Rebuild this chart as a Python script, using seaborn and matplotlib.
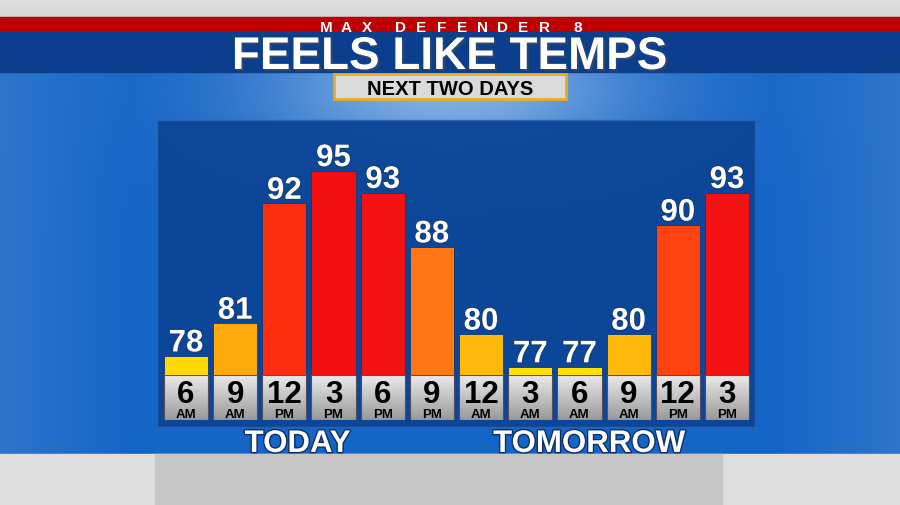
import numpy as np
import pandas as pd
import matplotlib.pyplot as plt
import matplotlib.patheffects as pe
from matplotlib.colors import LinearSegmentedColormap, to_rgb
from matplotlib.patches import Rectangle
import seaborn as sns

# Feels-like temperatures, every 3 hours over the next two days
hours = ["6", "9", "12", "3", "6", "9", "12", "3", "6", "9", "12", "3"]
meridiem = ["AM", "AM", "PM", "PM", "PM", "PM", "AM", "AM", "AM", "AM", "PM", "PM"]
temps = [78, 81, 92, 95, 93, 88, 80, 77, 77, 80, 90, 93]
days = ["TODAY", "TOMORROW"]

title = "FEELS LIKE TEMPS"
brand = "MAX DEFENDER 8"
subtitle = "NEXT TWO DAYS"

W, H = 900, 506
fig = plt.figure(figsize=(W / 100, H / 100), dpi=100)

# ---------- background (pixel coordinates) ----------
bg = fig.add_axes([0, 0, 1, 1])
bg.set_xlim(0, W)
bg.set_ylim(H, 0)
bg.axis("off")

yy, xx = np.mgrid[0:H, 0:W]
base = np.array(to_rgb("#1565c6"))
glow = np.exp(-(((xx - 450) / 190.0) ** 2 + ((yy - 90) / 75.0) ** 2))
edge = np.clip((np.abs(xx - 450) - 320) / 180.0, 0, 1) * 0.18
img = base[None, None, :] * np.ones((H, W, 1))
img = img + (np.array([0.80, 0.88, 0.96]) - img) * (0.6 * glow + edge)[..., None]
bg.imshow(np.clip(img, 0, 1), extent=(0, W, H, 0), aspect="auto", zorder=0)

# top bands
topgrad = np.linspace(0.88, 0.83, 18)[:, None]
bg.imshow(np.dstack([topgrad] * 3), extent=(0, W, 18, 0), aspect="auto", zorder=1)
bg.add_patch(Rectangle((0, 18), W, 15, color="#bd0000", zorder=1))
bg.add_patch(Rectangle((0, 33), W, 40, color="#0b3f8e", zorder=1))
# bottom band
bg.add_patch(Rectangle((0, 455), W, 51, color="#dedede", zorder=1))
bg.add_patch(Rectangle((155, 455), 567, 51, color="#c6c6c6", zorder=1))

# letter-spaced brand line
x = 326.0
for ch in brand:
    if ch == " ":
        x += 13
        continue
    bg.text(x, 31.5, ch, color="white", fontsize=11, fontweight="bold",
            family="Liberation Sans", ha="center", va="baseline", zorder=2)
    x += 20.5

bg.text(450, 70, title, color="white", fontsize=33, fontweight="bold",
        family="Liberation Sans", ha="center", va="baseline", zorder=2,
        path_effects=[pe.withSimplePatchShadow(offset=(1.5, -1.5), alpha=0.5)])

bg.add_patch(Rectangle((334, 75), 232, 25, facecolor="#dadada",
                       edgecolor="#e6ae22", linewidth=2, zorder=2))
bg.text(450, 94.5, subtitle, color="black", fontsize=14.5, fontweight="bold",
        family="Liberation Sans", ha="center", va="baseline", zorder=3)

# chart panel
bg.add_patch(Rectangle((157, 121), 598, 307, facecolor="#0c4596",
                       edgecolor="#2d63ad", linewidth=1, alpha=0.95, zorder=2))

# ---------- bars ----------
baseline = 76.26
px_per_deg = 10.9
ax_left, ax_w = 161.4 / W, 590.2 / W
ax_top_px, ax_bot_px = 121, 376
ax = fig.add_axes([ax_left, 1 - ax_bot_px / H, ax_w, (ax_bot_px - ax_top_px) / H])
ax.patch.set_visible(False)

df = pd.DataFrame({"slot": range(len(temps)), "temp": temps})
cmap = LinearSegmentedColormap.from_list(
    "heat", [(0.0, "#ffdf00"), (1 / 18, "#ffd806"), (4 / 18, "#ffa90c"),
             (11 / 18, "#ff7814"), (13 / 18, "#fd4410"), (15 / 18, "#fb3010"),
             (16 / 18, "#f21212"), (1.0, "#f20f0f")])
palette = [cmap((t - 77) / 18) for t in temps]
sns.barplot(data=df, x="slot", y="temp", hue="slot", palette=palette,
            legend=False, width=0.9, saturation=1, ax=ax,
            edgecolor="#0a3a80", linewidth=0.6)
ax.set_xlim(-0.5, len(temps) - 0.5)
ax.set_ylim(baseline, baseline + (ax_bot_px - ax_top_px) / px_per_deg)
ax.axis("off")

for i, t in enumerate(temps):
    ax.annotate(str(t), (i, t), xytext=(0, 3.3), textcoords="offset points",
                ha="center", va="baseline", color="white", fontsize=22.5,
                fontweight="bold", family="Liberation Sans", clip_on=False,
                path_effects=[pe.withStroke(linewidth=1.2, foreground="#123a70")])

# ---------- hour label boxes ----------
lab = fig.add_axes([ax_left, 1 - 421 / H, ax_w, 45 / H])
lab.axis("off")
grad = np.linspace(0.92, 0.60, 64)[:, None]
for i, (h, m) in enumerate(zip(hours, meridiem)):
    lab.imshow(np.dstack([grad, grad, grad]), extent=(i - 0.45, i + 0.45, 0, 1),
               aspect="auto", zorder=1)
    lab.add_patch(Rectangle((i - 0.45, 0), 0.9, 1, fill=False,
                            edgecolor="#5a4a5a", linewidth=0.8, zorder=2))
    lab.text(i, 0.40, h, ha="center", va="baseline", color="black",
             fontsize=22.5, fontweight="bold", family="Liberation Sans", zorder=3)
    lab.text(i, 0.07, m, ha="center", va="baseline", color="black",
             fontsize=9.5, fontweight="bold", family="Liberation Sans", zorder=3)
lab.set_xlim(-0.5, len(temps) - 0.5)
lab.set_ylim(0, 1)

for x, d in zip([2.27, 8.2], days):
    lab.text(x, -0.71, d, ha="center", va="baseline", color="white",
             fontsize=22.5, fontweight="bold", family="Liberation Sans",
             clip_on=False,
             path_effects=[pe.withStroke(linewidth=2, foreground="#0d2f66")])

fig.savefig("out.png", dpi=100)
